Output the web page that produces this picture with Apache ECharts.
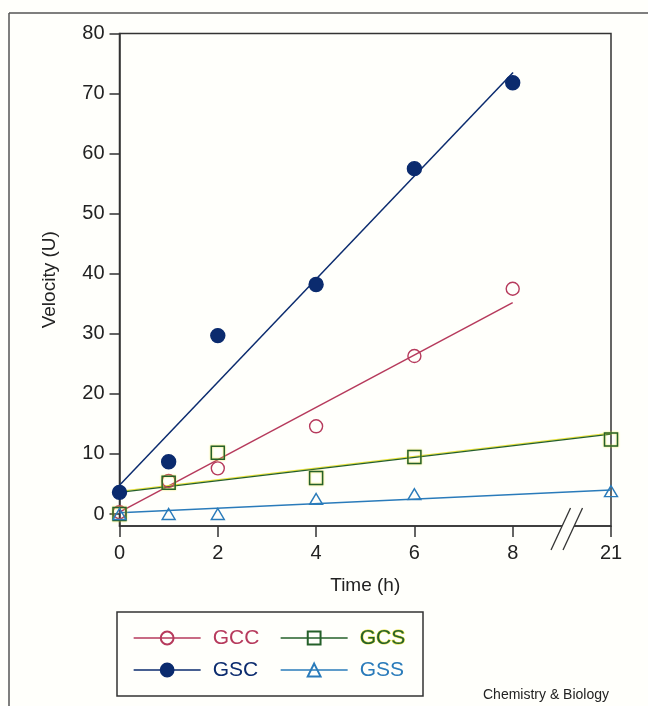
<!DOCTYPE html>
<html><head><meta charset="utf-8">
<script src="https://cdn.jsdelivr.net/npm/echarts@6/dist/echarts.min.js"></script>
<style>html,body{margin:0;padding:0;background:#fffffb;}#c{width:648px;height:706px;}</style>
</head><body><div id="c"></div>
<script>
// ---- data (hours, velocity in U) ----
const hoursShort = [0, 1, 2, 4, 6, 8];
const hoursLong = [0, 1, 2, 4, 6, 21];
const GCC = [0.3, 5.5, 7.6, 14.6, 26.3, 37.5];
const GSC = [3.6, 8.7, 29.7, 38.2, 57.5, 71.8];
const GCS = [0, 5.2, 10.2, 6.0, 9.5, 12.4];
const GSS = [0, 0, 0, 2.5, 3.3, 3.8];
// fitted lines [hour, value] endpoints
const fitGCC = [[0, 0.3], [8, 35.2]];
const fitGSC = [[0, 4.8], [8.05, 73.5]];
const fitGCS = [[0, 3.6], [21, 13.3]];
const fitGSS = [[0, 0.2], [21, 4.0]];
const xTickHours = [0, 2, 4, 6, 8, 21];
const yTicks = [0, 10, 20, 30, 40, 50, 60, 70, 80];

// broken time axis: 0..8 linear, 8..21 squeezed into 8..10
function axisX(h) { return h <= 8 ? h : 8 + (h - 8) * 2 / 13; }
function pts(xs, ys) { return xs.map((h, i) => [axisX(h), ys[i]]); }
function fit(seg) { return seg.map(p => [axisX(p[0]), p[1]]); }

const BG = '#fffffb';
const C_GCC = '#b63a5c', C_GSC = '#0b2b6e', C_GCS = '#25602a', C_GSS = '#2a7bba';
const YEL = '#e9e23c';
const FONT = '"Liberation Sans", Arial, sans-serif';

const chart = echarts.init(document.getElementById('c'), null, { renderer: 'canvas' });

function fitSeries(data, color, extra) {
  return Object.assign({
    type: 'line', data: fit(data), showSymbol: false, silent: true, z: 2,
    lineStyle: { color: color, width: 1.5 }, animation: false
  }, extra || {});
}
function pointSeries(name, data, symbol, size, color, fill, extra) {
  return Object.assign({
    name: name, type: 'line', data: data, symbol: symbol, symbolSize: size, z: 3,
    lineStyle: { color: color, width: 1.3, opacity: 0 },
    itemStyle: { color: fill, borderColor: color, borderWidth: 1.4 },
    animation: false
  }, extra || {});
}

const legendCommon = {
  orient: 'vertical', itemWidth: 67, itemHeight: 16, itemGap: 10, padding: 0,
  lineStyle: { width: 1.3, opacity: 1 },
  textStyle: { fontFamily: FONT, fontSize: 21, lineHeight: 22, padding: [0, 0, 0, 7] },
  selectedMode: false
};

chart.setOption({
  backgroundColor: BG,
  animation: false,
  grid: { left: 119.5, right: 37, top: 33.5, bottom: 180, show: true, borderColor: '#333', borderWidth: 1.5, backgroundColor: 'transparent' },
  xAxis: {
    type: 'value', min: 0, max: 10,
    name: 'Time (h)', nameLocation: 'middle', nameGap: 50,
    nameTextStyle: { fontFamily: FONT, fontSize: 19, color: '#222' },
    axisLine: { show: true, onZero: false, lineStyle: { color: '#333', width: 1.5 } },
    axisTick: { show: true, length: 11, lineStyle: { color: '#333', width: 1.5 }, customValues: xTickHours.map(axisX) },
    axisLabel: {
      fontFamily: FONT, fontSize: 20, color: '#222', margin: 17,
      customValues: xTickHours.map(axisX),
      formatter: v => { const t = xTickHours.find(h => Math.abs(axisX(h) - v) < 1e-6); return t === undefined ? '' : String(t); }
    },
    splitLine: { show: false }
  },
  yAxis: {
    type: 'value', min: -2, max: 80,
    name: 'Velocity (U)', nameLocation: 'middle', nameGap: 60,
    nameTextStyle: { fontFamily: FONT, fontSize: 19, color: '#222' },
    axisLine: { show: true, onZero: false, lineStyle: { color: '#333', width: 1.5 } },
    axisTick: { show: true, length: 10, lineStyle: { color: '#333', width: 1.5 }, customValues: yTicks },
    axisLabel: { fontFamily: FONT, fontSize: 20, color: '#222', margin: 15, customValues: yTicks },
    splitLine: { show: false }
  },
  legend: [
    Object.assign({}, legendCommon, {
      left: 133, top: 627,
      data: [
        { name: 'GCC', textStyle: { color: C_GCC } },
        { name: 'GSC', textStyle: { color: C_GSC } }
      ]
    }),
    Object.assign({}, legendCommon, {
      left: 280, top: 627,
      data: [
        { name: 'GCS', textStyle: { color: C_GCS, textBorderColor: YEL, textBorderWidth: 1 } },
        { name: 'GSS', textStyle: { color: C_GSS } }
      ]
    })
  ],
  series: [
    fitSeries(fitGCC, C_GCC),
    fitSeries(fitGSC, C_GSC),
    fitSeries(fitGCS, C_GCS, { lineStyle: { color: C_GCS, width: 1.4, shadowColor: YEL, shadowBlur: 0, shadowOffsetY: -1 } }),
    fitSeries(fitGSS, C_GSS),
    pointSeries('GCC', pts(hoursShort, GCC), 'circle', 13, C_GCC, 'rgba(0,0,0,0)'),
    pointSeries('GCS', pts(hoursLong, GCS), 'rect', 13, C_GCS, 'rgba(0,0,0,0)', {
      itemStyle: { color: 'rgba(0,0,0,0)', borderColor: C_GCS, borderWidth: 1.5, shadowColor: YEL, shadowBlur: 2 }
    }),
    pointSeries('GSC', pts(hoursShort, GSC), 'circle', 14, C_GSC, C_GSC),
    pointSeries('GSS', pts(hoursLong, GSS), 'triangle', [13, 11], C_GSS, 'rgba(0,0,0,0)')
  ]
});

// decorations: axis break marks, legend frame, page frame, credit
const b = chart.convertToPixel({ gridIndex: 0 }, [9.1, -2]);
const cx = b[0], cy = b[1] + 3;
const dx = 9.75, dy = 21, off = 6;
chart.setOption({
  graphic: [
    { type: 'polygon', z: 100, shape: { points: [[cx - off - dx, cy + dy], [cx - off + dx, cy - dy], [cx + off + dx, cy - dy], [cx + off - dx, cy + dy]] }, style: { fill: BG, stroke: null } },
    { type: 'line', z: 101, shape: { x1: cx - off - dx, y1: cy + dy, x2: cx - off + dx, y2: cy - dy }, style: { stroke: '#333', lineWidth: 1.3 } },
    { type: 'line', z: 101, shape: { x1: cx + off - dx, y1: cy + dy, x2: cx + off + dx, y2: cy - dy }, style: { stroke: '#333', lineWidth: 1.3 } },
    { type: 'rect', z: 1, shape: { x: 117, y: 612, width: 306, height: 84 }, style: { fill: null, stroke: '#333', lineWidth: 1.5 } },
    { type: 'line', z: 1, shape: { x1: 9, y1: 13, x2: 648, y2: 13 }, style: { stroke: '#555', lineWidth: 1.5 } },
    { type: 'line', z: 1, shape: { x1: 9, y1: 13, x2: 9, y2: 706 }, style: { stroke: '#555', lineWidth: 1.5 } },
    { type: 'text', z: 1, left: 483, top: 688, style: { text: 'Chemistry & Biology', font: '14px "Liberation Sans", Arial, sans-serif', fill: '#222' } }
  ]
});
</script>
</body></html>
